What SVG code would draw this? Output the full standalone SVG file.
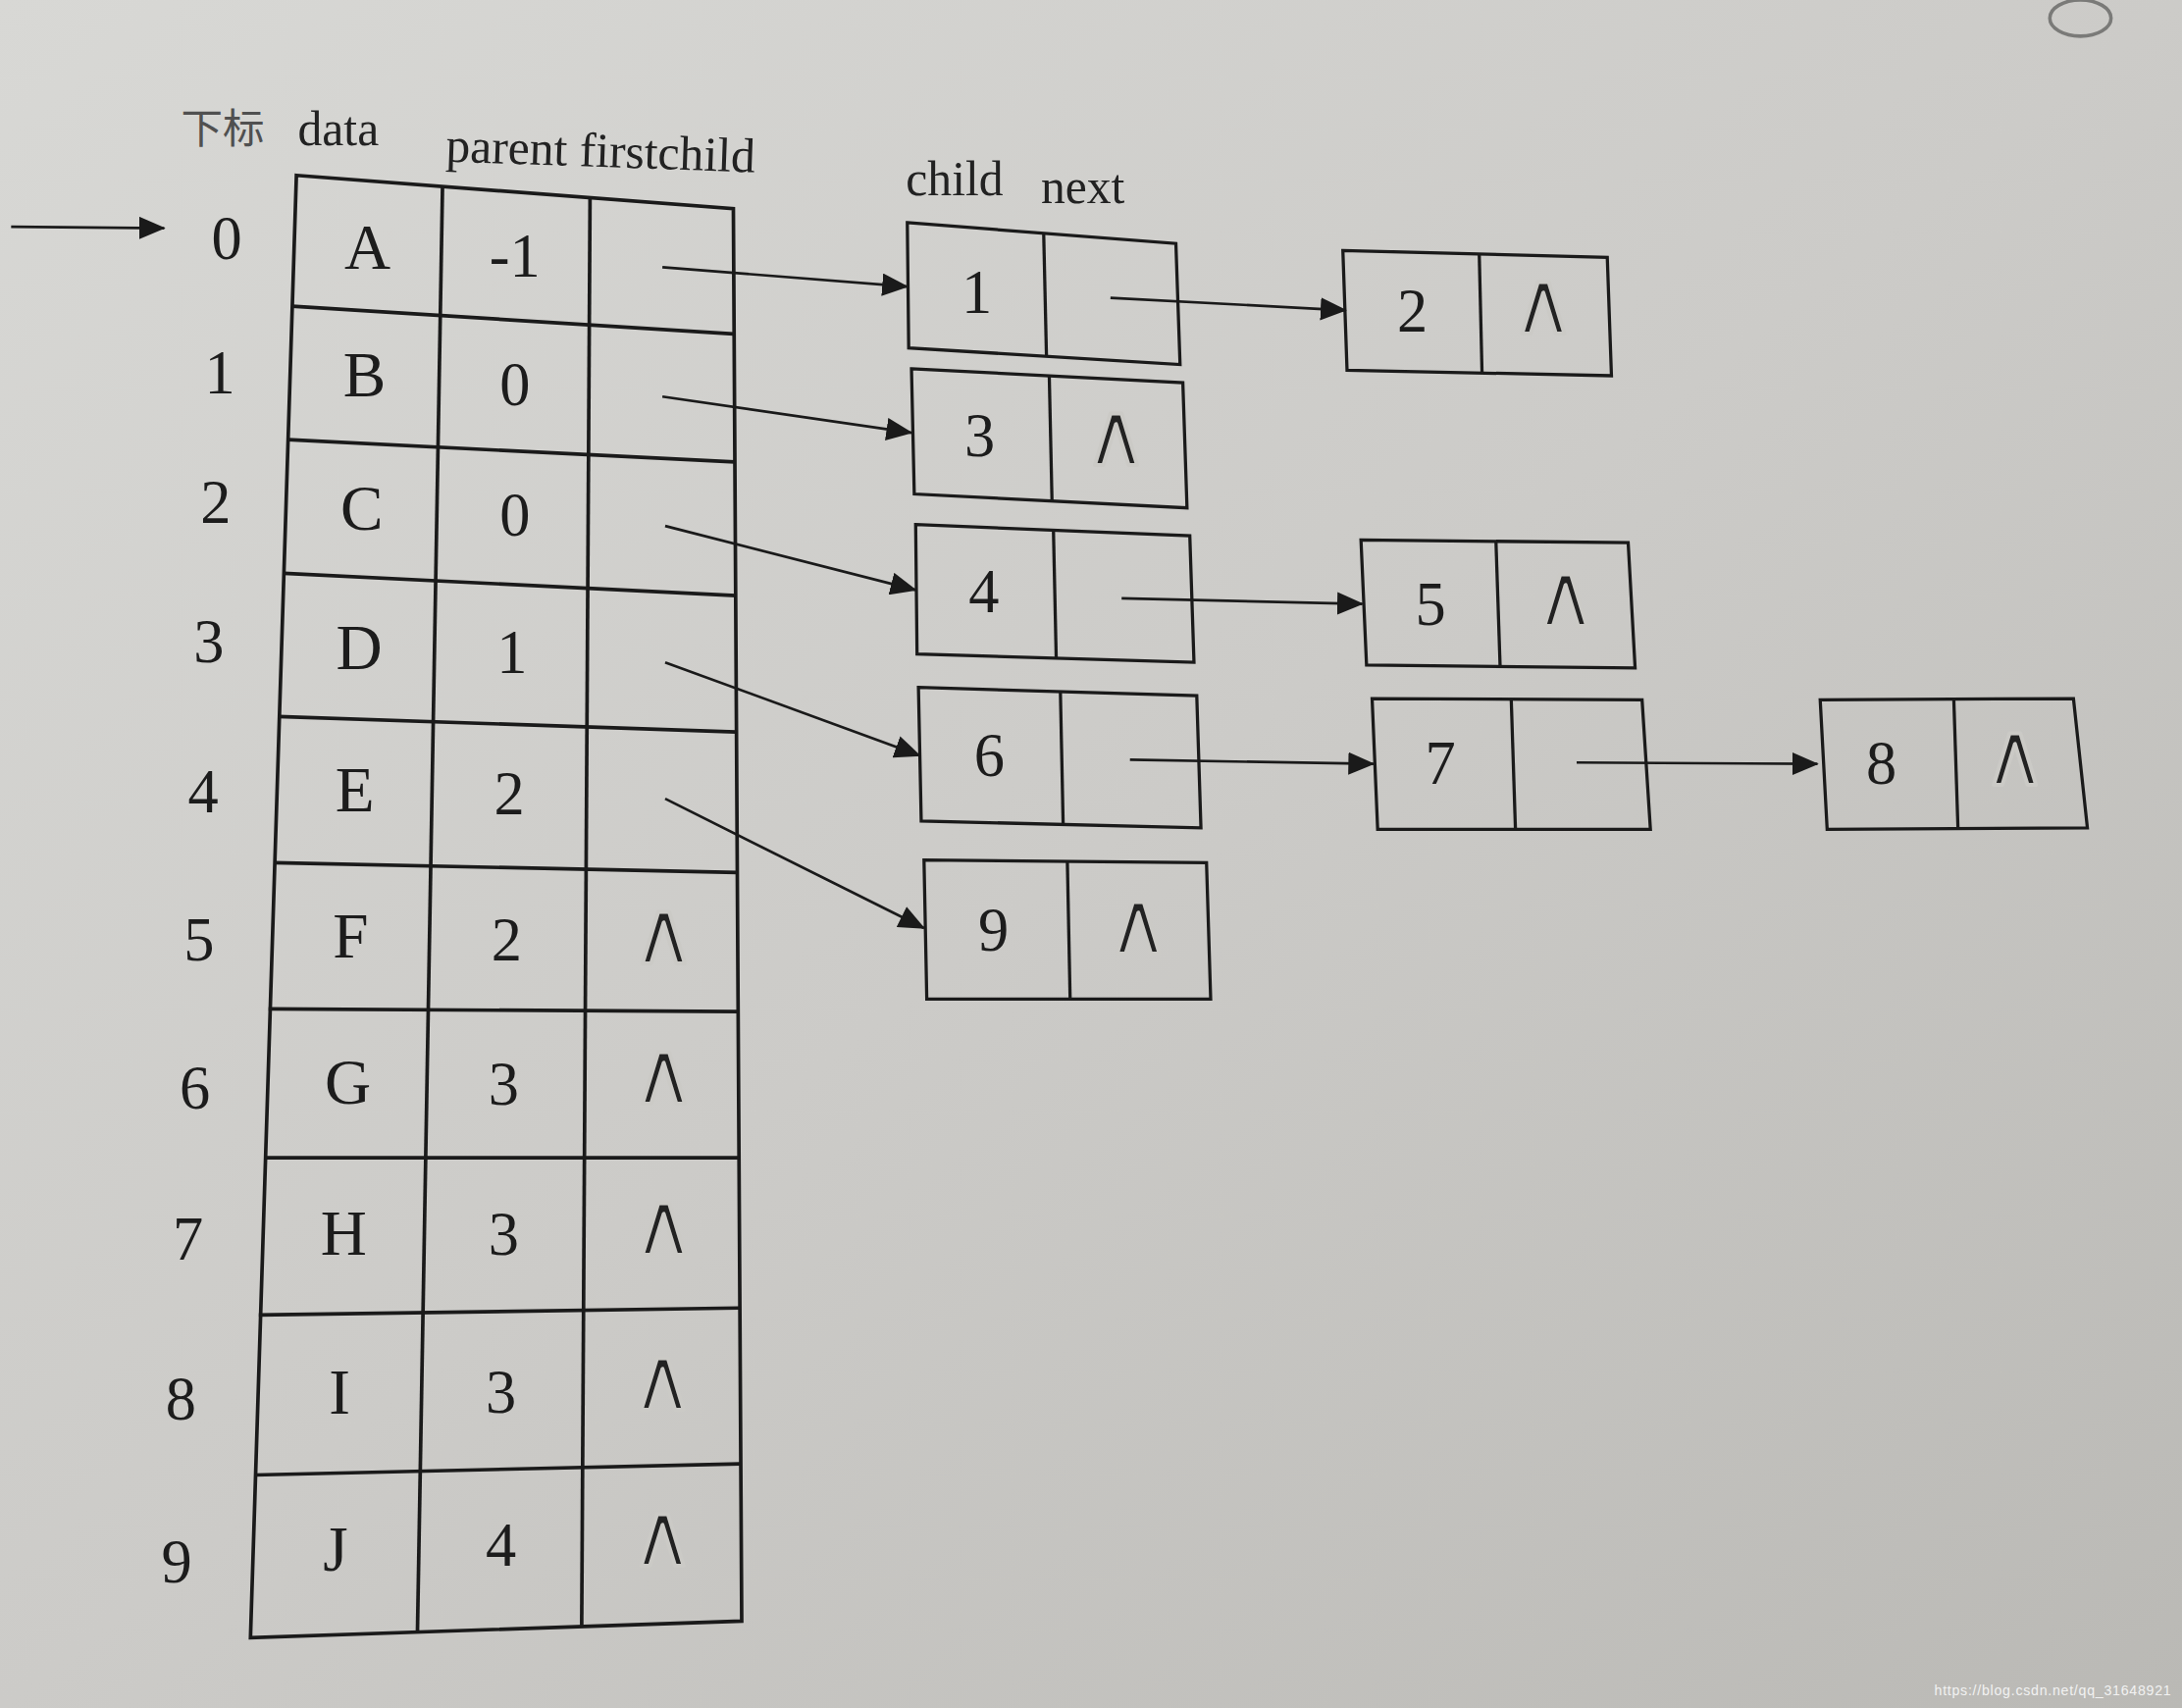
<svg xmlns="http://www.w3.org/2000/svg" width="2224" height="1741" viewBox="0 0 2224 1741">
<defs>
<linearGradient id="bg" x1="0" y1="0" x2="1" y2="1">
<stop offset="0" stop-color="#d8d8d5"/>
<stop offset="0.5" stop-color="#cccbc8"/>
<stop offset="1" stop-color="#bab9b5"/>
</linearGradient>
<marker id="ah" markerWidth="10" markerHeight="8.6" refX="9.5" refY="4.3" orient="auto" markerUnits="strokeWidth">
<path d="M0,0 L10,4.3 L0,8.6 Z" fill="#1a1a1a"/>
</marker>
<style>
.ln{stroke:#1a1a1a;stroke-width:2.6;fill:none}
.bx{stroke:#1a1a1a;stroke-width:2.6;fill:none}
.nb{stroke:#1a1a1a;stroke-width:2.3;fill:none}
.tx{font-family:"Liberation Serif","Times New Roman",serif;fill:#1c1c1c;text-anchor:middle}
.big{font-size:46px}
.idx{font-size:44px}
.hd{font-family:"Liberation Serif",serif;font-size:35px;fill:#222}
.nl{font-family:"DejaVu Sans",sans-serif;font-size:64px;fill:#222;text-anchor:middle;stroke:#cbcac6;stroke-width:2.8;stroke-linejoin:round;paint-order:normal}
.con{stroke:#1a1a1a;stroke-width:1.9;fill:none;marker-end:url(#ah)}
</style>
</defs>
<rect x="0" y="0" width="2224" height="1741" fill="url(#bg)"/>
<g transform="scale(1.41837)">
<ellipse cx="1495" cy="13" rx="22" ry="13" fill="none" stroke="#7a7a78" stroke-width="2.5"/>
<g id="headers">
<text x="130" y="103" font-family="Noto Sans CJK SC,sans-serif" font-size="30" fill="#505050">下标</text>
<text class="hd" x="214" y="104">data</text>
<text class="hd" x="320" y="116" transform="rotate(2 320 116)">parent firstchild</text>
<text class="hd" x="651" y="140" font-size="33">child</text>
<text class="hd" x="748" y="146" font-size="33">next</text>
</g>
<g id="table">
<polygon class="bx" points="213,126 527,150 533,1165 180,1177"/>
<line class="ln" x1="318" y1="134" x2="300" y2="1172"/>
<line class="ln" x1="424" y1="142" x2="418" y2="1168"/>
<line class="ln" x1="210" y1="220" x2="527" y2="240"/>
<line class="ln" x1="207" y1="316" x2="528" y2="332"/>
<line class="ln" x1="204" y1="412" x2="529" y2="428"/>
<line class="ln" x1="200" y1="515" x2="529" y2="526"/>
<line class="ln" x1="197" y1="620" x2="530" y2="627"/>
<line class="ln" x1="193" y1="725" x2="530" y2="727"/>
<line class="ln" x1="190" y1="832" x2="531" y2="832"/>
<line class="ln" x1="186" y1="945" x2="531" y2="940"/>
<line class="ln" x1="183" y1="1060" x2="532" y2="1052"/>
<g class="tx idx">
<text x="163" y="186">0</text>
<text x="158" y="283">1</text>
<text x="155" y="376">2</text>
<text x="150" y="476">3</text>
<text x="146" y="584">4</text>
<text x="143" y="690">5</text>
<text x="140" y="797">6</text>
<text x="135" y="905">7</text>
<text x="130" y="1020">8</text>
<text x="127" y="1137">9</text>
</g>
<g class="tx big">
<text x="264" y="193">A</text>
<text x="262" y="285">B</text>
<text x="260" y="381">C</text>
<text x="258" y="481">D</text>
<text x="255" y="583">E</text>
<text x="252" y="688">F</text>
<text x="250" y="793">G</text>
<text x="247" y="902">H</text>
<text x="244" y="1016">I</text>
<text x="241" y="1129">J</text>
</g>
<g class="tx idx">
<text x="370" y="199">-1</text>
<text x="370" y="291">0</text>
<text x="370" y="385">0</text>
<text x="368" y="484">1</text>
<text x="366" y="585">2</text>
<text x="364" y="690">2</text>
<text x="362" y="794">3</text>
<text x="362" y="902">3</text>
<text x="360" y="1015">3</text>
<text x="360" y="1125">4</text>
</g>
<g class="nl">
<text x="477" y="692">∧</text>
<text x="477" y="793">∧</text>
<text x="477" y="902">∧</text>
<text x="476" y="1013">∧</text>
<text x="476" y="1125">∧</text>
</g>
</g>
<g id="node1">
<polygon class="nb" points="652,160 845,175 848,262 653,250"/>
<line class="nb" x1="750" y1="168" x2="752" y2="256"/>
<text class="tx idx" x="702" y="225">1</text>
</g>
<g id="node2">
<polygon class="nb" points="965,180 1155,185 1158,270 968,266"/>
<line class="nb" x1="1063" y1="183" x2="1065" y2="268"/>
<text class="tx idx" x="1015" y="238">2</text>
<text class="nl" x="1109" y="240">∧</text>
</g>
<g id="node3">
<polygon class="nb" points="655,265 850,275 853,365 657,355"/>
<line class="nb" x1="754" y1="270" x2="756" y2="361"/>
<text class="tx idx" x="704" y="328">3</text>
<text class="nl" x="802" y="334">∧</text>
</g>
<g id="node4">
<polygon class="nb" points="658,377 855,385 858,476 659,470"/>
<line class="nb" x1="757" y1="381" x2="759" y2="473"/>
<text class="tx idx" x="707" y="440">4</text>
</g>
<g id="node5">
<polygon class="nb" points="978,388 1170,390 1175,480 982,478"/>
<line class="nb" x1="1075" y1="389" x2="1078" y2="479"/>
<text class="tx idx" x="1028" y="449">5</text>
<text class="nl" x="1125" y="450">∧</text>
</g>
<g id="node6">
<polygon class="nb" points="660,494 860,500 863,595 662,590"/>
<line class="nb" x1="762" y1="497" x2="764" y2="593"/>
<text class="tx idx" x="711" y="558">6</text>
</g>
<g id="node7">
<polygon class="nb" points="986,502 1180,503 1186,596 990,596"/>
<line class="nb" x1="1086" y1="503" x2="1089" y2="596"/>
<text class="tx idx" x="1035" y="563">7</text>
</g>
<g id="node8">
<polygon class="nb" points="1308,503 1490,502 1500,595 1313,596"/>
<line class="nb" x1="1404" y1="502" x2="1407" y2="595"/>
<text class="tx idx" x="1352" y="563">8</text>
<text class="nl" x="1448" y="564">∧</text>
</g>
<g id="node9">
<polygon class="nb" points="664,618 867,620 870,718 666,718"/>
<line class="nb" x1="767" y1="619" x2="769" y2="718"/>
<text class="tx idx" x="714" y="683">9</text>
<text class="nl" x="818" y="685">∧</text>
</g>
<g id="connectors">
<path class="con" d="M8,163 L118,164"/>
<path class="con" d="M476,192 L652,206"/>
<path class="con" d="M476,285 L655,311"/>
<path class="con" d="M478,378 L658,424"/>
<path class="con" d="M478,476 L661,543"/>
<path class="con" d="M478,574 L664,667"/>
<path class="con" d="M798,214 L967,223"/>
<path class="con" d="M806,430 L979,434"/>
<path class="con" d="M812,546 L987,549"/>
<path class="con" d="M1133,548 L1306,549"/>
</g>
<text x="1390" y="1218" font-family="Liberation Sans,Arial,sans-serif" font-size="10" fill="#f2f2f2" textLength="170">https://blog.csdn.net/qq_31648921</text>
</g>
</svg>
